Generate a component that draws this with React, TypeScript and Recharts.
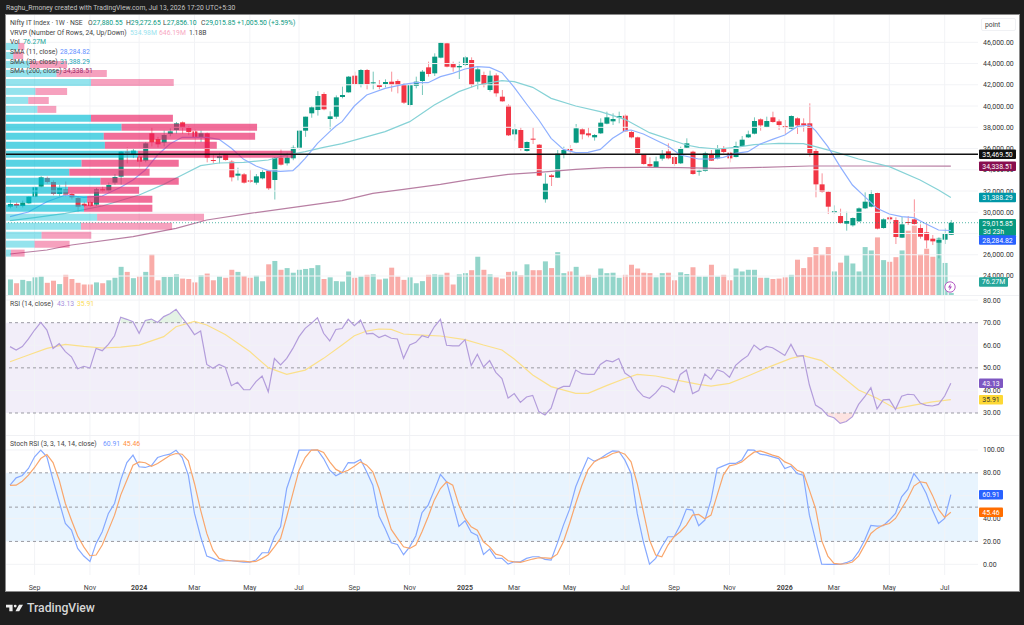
import React from 'react';
import { ComposedChart, BarChart, Bar, Line, Area, Cell, XAxis, YAxis, ReferenceLine, ReferenceArea } from 'recharts';

const FONT = 'Roboto, "Liberation Sans", sans-serif';
const FIRST_WEEK = Date.UTC(2023, 7, 7);
const opens = [
30526,30777,30590,30840,31468,32410,33225,32850,31720,32158,
31720,31342,30800,30965,30715,32158,32032,32786,33350,35700,
35400,35234,34857,37430,36896,36551,37367,37744,38466,37932,
37618,37022,37430,34920,35100,35390,34763,33445,33570,33005,
32786,33194,33915,33037,35139,34606,35077,36081,37681,39313,
39627,41133,38780,38999,40851,41290,42859,42043,43392,42168,
41980,42074,42294,42357,41980,40098,41886,42357,43643,43079,
44554,45903,43957,43643,43863,44334,42294,42922,41510,42890,
40882,40035,37336,37744,35767,36928,36363,31217,33476,33257,
35422,35987,36551,37807,37430,37054,37430,38340,38560,38905,
39093,37556,37054,35453,34543,34261,35045,35736,35202,34606,
36080,35704,33852,33883,35452,35076,36017,35609,35201,36237,
37053,37398,38747,38026,38936,38559,38120,37869,38842,38371,
38371,35766,32628,31938,29961,29647,28925,28769,29145,30369,
30526,31812,28517,29522,29271,27608,29082,29333,28517,28110,
27513,27137,27419,27880.55];
const closes = [
30777,30590,30903,31468,32347,33288,32850,31720,32283,31655,
31405,30526,30600,30590,32158,32032,32566,33319,35704,35600,
35800,34762,36489,36582,36394,37273,37618,38372,37964,37556,
36990,37430,35139,34825,35300,34920,33288,33633,32786,32880,
33382,33790,32252,35139,34480,35139,36081,37681,38999,39878,
40945,39690,39030,40819,41039,42765,42074,43392,42074,42231,
41792,42263,42012,41980,40317,41980,42294,43236,43016,44648,
45966,43706,43643,43769,44585,41980,43455,41980,42859,41196,
40443,37242,37807,36018,36614,36834,33445,32692,33319,35516,
35861,35798,37901,37336,37242,37273,38434,38936,38780,39062,
37618,37054,35547,34543,34324,34794,35391,35077,34543,36018,
36488,33601,33915,35547,34856,35923,35672,35076,36237,36833,
37335,38590,38183,38590,38497,38214,37963,39061,38183,38183,
35547,32628,31907,30526,30118,28988,29177,29459,30369,30996,
31718,28455,29333,29333,27670,28862,29020,28894,27702,27356,
27262,27388,28010,29015.85];
const highs = [
31154,30950,31100,31500,32400,33400,33350,33000,32600,32900,
31800,31500,31000,31100,32300,32400,32800,33600,35750,36100,
36000,35700,36600,38000,37100,37700,37900,38500,38550,38100,
37800,37700,37500,35500,35600,35500,34900,34200,33700,34000,
33600,34000,34000,35200,35900,35600,36300,37700,39000,40000,
41400,41300,39500,41000,41823,42828,43236,43487,43487,43236,
42451,42514,43236,42514,42137,42137,42765,43392,44177,44961,
46028,45966,44177,44177,44710,44585,43643,43236,43330,43079,
41510,40160,38309,37995,36677,37995,36426,33665,33602,35861,
36175,36332,38309,37901,37995,37367,38842,39470,39313,39470,
39219,37681,37116,35485,35171,35234,35861,36489,35296,36175,
36959,35798,34040,35704,35860,36331,36237,35704,36645,37178,
37680,38936,38842,38998,39469,38747,38685,39124,38936,38842,
40254,35955,33664,32001,30651,30338,30055,29522,30463,31875,
32095,31844,29427,29647,29522,29584,29647,31216,28862,28957,
27858,27639,28487,29272.65];
const lows = [
30370,30400,30450,30800,31400,32350,32700,31600,31500,31500,
31200,30000,30500,30500,30600,31900,31900,32600,32600,34600,
35100,34200,34700,36200,36100,36200,37150,37400,37400,37250,
36400,36600,34700,34600,34600,34850,32900,33000,32700,32750,
32600,33100,32100,31200,34400,34400,34900,35900,37100,38900,
39100,39600,37800,38800,40725,41260,41980,41760,41572,41572,
41572,41760,41353,41196,40192,39941,41666,41039,42765,42828,
44491,43643,43236,42545,43769,41760,41572,41760,41353,40882,
40411,37179,36740,35798,35704,36426,33414,30903,32472,33225,
35077,35485,36489,36865,37054,36740,37367,38277,38215,38372,
37556,36960,35485,34480,34230,34198,34857,34982,34355,34543,
36049,33538,33444,33821,34825,34982,35547,34699,35170,36174,
36990,37335,37680,37994,38434,37743,37367,37806,37367,37586,
35233,31404,31844,29835,29867,28925,28267,28643,29082,30306,
30463,28392,28455,28894,27011,27576,28800,28831,27513,26603,
26917,25662,27011,27856.1];
const volumes = [
37,28,36,33,42,44,29,34,26,48,
38,29,25,25,30,28,35,41,67,55,
40,44,55,97,35,43,43,49,39,38,
30,47,51,35,44,41,60,55,45,41,
46,33,73,81,60,64,53,60,62,64,
71,38,42,33,32,56,41,44,48,49,
37,39,65,44,36,42,28,33,48,49,
48,53,25,49,52,59,91,60,49,42,
39,55,56,47,73,59,59,80,64,102,
52,56,67,44,48,41,63,52,53,41,
48,72,63,53,52,42,52,53,35,54,
50,66,44,44,72,44,48,35,63,56,
60,60,41,41,38,39,42,48,84,64,
90,114,97,114,56,77,94,75,56,114,
106,137,83,79,90,106,153,165,97,110,
91,136,76.27,5];
const sma11Points = [[0,29585],[3,30025],[6,30997],[9,31625],[12,31405],[15,31530],[18,32347],[20,33037],[22,33979],[24,35390],[26,36426],[28,37054],[30,37054],[32,37054],[34,36865],[36,36018],[38,34982],[40,34355],[42,33915],[44,33853],[46,33915],[47,34449],[48,35076],[50,36489],[52,37587],[53,38120],[54,38528],[56,40003],[58,41039],[61,41666],[64,42043],[66,42200],[68,42200],[70,42765],[72,43079],[74,43487],[76,43706],[78,43643],[80,43141],[82,41761],[84,40192],[86,38685],[88,36959],[90,35924],[92,35610],[94,35641],[96,35924],[98,36959],[100,37681],[101,37744],[103,37367],[105,36802],[107,36238],[109,35390],[112,35013],[114,35013],[116,35170],[118,35547],[120,35704],[122,36426],[124,36865],[126,37272],[128,38057],[130,38214],[131,37680],[133,36174],[135,34291],[137,32566],[139,31467],[141,30369],[143,29835],[145,29584],[147,29490],[149,28894],[151,28329],[153,28284.82]];
const sma30Points = [[0,29208],[4,29491],[9,29899],[15,30589],[21,31627],[25,32629],[28,33507],[31,34386],[34,34637],[38,34700],[42,34920],[45,35390],[48,35704],[51,36112],[54,36457],[61,37587],[65,38528],[69,40097],[73,41353],[76,41980],[80,42388],[82,42294],[85,41760],[88,40725],[92,40003],[96,39470],[100,38748],[104,37493],[110,36331],[112,36112],[115,35955],[118,36112],[121,36362],[125,36488],[129,36457],[131,36174],[134,35704],[138,35013],[143,34291],[148,33036],[151,32095],[153,31388.29]];
const sma200Points = [[0,26070],[6,26447],[10,26918],[20,27702],[27,28487],[32,29271],[39,29899],[47,30526],[54,31091],[59,31782],[64,32158],[70,32629],[75,33100],[81,33571],[86,33759],[92,34041],[97,34198],[103,34230],[109,34198],[115,34134],[122,34229],[130,34354],[140,34354],[153,34338.51]];
const rsiValues = [
59.4,57.9,59.4,62.8,66.75,70.1,66.75,58.6,60.7,57.2,
54.9,49.6,50.7,49.9,58.6,57.6,60.4,64.2,72.4,71.5,
70.4,65.3,71,71.6,70.1,72.7,74,75.9,72.2,68.7,
64.7,66.3,51.5,49.8,51.5,50.3,42.1,43.6,40.3,40.3,
43.9,46.4,39.4,54.1,51.3,54.2,58.6,63.8,67.5,69.7,
72.2,65.3,61.9,67,67.4,71.5,68.7,71.2,65.1,65.3,
63.4,64.5,63.1,62.8,54.2,60.1,61.3,64.2,63.4,68.2,
71.5,60,59.7,59.7,62.5,51,56,50.4,53.2,48,
45.3,36.6,38.6,34.7,37.1,37.8,30.6,29.1,32.1,40.5,
41.8,41.8,49,47.4,47.1,47.1,51.5,53.3,52.7,54.1,
47.7,45.8,40.3,37.4,36.5,38.9,42.1,41.2,39.2,47.1,
49,38.6,39.9,47.3,44.9,49.2,48.2,45.8,51.1,53.5,
55.4,60.1,57.9,59.5,58.9,57.2,55.5,60.4,55.2,55.4,
42.4,33.5,31.8,28.8,27.9,25.4,26.2,28.4,33.8,37.2,
41.2,31.8,35.8,36,31.6,37.4,38.3,38.1,34.4,33.4,
33.1,33.8,37.5,43.13];
const rsiMaPoints = [[0,52.7],[3,55.7],[6,58.6],[9,60.4],[12,59.5],[15,58.8],[18,59.2],[21,60.1],[25,63.8],[27,68.2],[30,70.6],[32,69],[35,64.8],[39,57.2],[42,50.1],[45,47.1],[48,49],[51,54.2],[54,60.1],[56,64.2],[58,66.3],[60,67.2],[62,67],[64,65],[67,64.5],[70,64.1],[74,62.5],[77,60.1],[80,57.9],[82,53.9],[85,46.8],[88,41.7],[92,38.7],[94,38.7],[97,42.1],[100,45.3],[102,47.1],[105,46.4],[108,44.8],[112,42.7],[114,41.9],[117,43.1],[120,46.4],[124,51],[127,54.2],[129,55.4],[132,53.2],[135,46.8],[138,40.2],[141,36.5],[144,31.9],[147,33.5],[150,34.9],[153,35.91]];
const stochK = [
69.2,75.6,77.7,83.8,94,99.8,94,73.6,54.7,35.7,
29.9,13.9,7.2,2.5,18.3,28.5,44.5,53.2,73.6,89,
95.5,85.3,84.7,86.4,93.4,95.2,96.3,99.8,93.4,78,
44.5,24.1,7.2,5.2,2.8,3.1,3.1,2.5,1.9,1.9,
3.7,10.1,10.1,24.1,32.8,66.3,82.3,99.8,99.8,100,
100,92.5,82.3,77.4,80.3,89,88.8,91.7,80.9,69.2,
42.2,31.4,18.8,17.4,8.4,15.3,25,45.1,51.8,64.9,
78.6,72.2,53.2,33.1,38.1,27.9,25.3,8.7,13.3,5.4,
5.2,0.2,2.2,2.2,5.2,6.6,6.6,4.3,3.7,18.3,
34.3,48,67.8,80.9,93.4,90.2,92.5,96.3,99.2,98.9,
91.1,79.4,44.5,19.7,0.2,5.2,15.3,24.1,24.1,34.3,
48.3,47.4,33.7,38.7,56.1,83.8,86.1,88.2,88.2,91.1,
100,99.8,96.3,95.5,94,92.5,83.8,85.8,79.4,78,
43,21.2,0.2,0,0,0,1.4,3.7,11,21.2,
34,33.4,33.7,38.7,44.5,59,65.5,79.4,72.2,62,
47.4,35.7,40.1,60.91];
const stochD = [
69,69.2,72.7,78,84.7,92.5,96,89,73.6,53.2,
38.6,24.7,15.3,7.5,8.1,16.8,29.9,43,60.5,73.6,
86.7,89.6,88.8,85.8,88.2,91.7,95.2,96.9,96.3,90.5,
70.7,47.4,27,12.4,5.2,3.7,3.1,2.8,2.8,2.2,
2.5,5.2,8.4,15.3,22.6,41.6,62,82.3,93.4,99.8,
100,97.8,89.6,83,80.3,82.3,85.8,89.6,86.7,80.9,
66.3,47.4,30.5,22.6,15.3,13.9,16.8,28.5,41.6,56.1,
66.3,72.2,69.2,51.8,40.1,32.8,29.9,19.7,15.3,8.9,
7.5,3.1,2.2,1.7,3.1,4.6,5.7,5.7,5.2,8.9,
19.7,35.7,53.2,69.2,82.9,89.6,92.5,94,96.9,98.4,
96.3,89.6,70.7,46,21.2,8.1,6.6,16.8,24.1,28.5,
34.3,43,43.6,39.8,43,60.5,78,86.1,87.3,89.6,
94,98.1,99.2,97.5,95.5,94,89.6,87.3,82.3,80.3,
64.9,48.8,20.7,7.2,0.8,0.2,0.5,2,7.2,16.8,
27,31.4,34.3,35.7,40.1,48.8,57.6,68.4,72.2,71.3,
60.5,48,41,45.46];

// Visible Range Volume Profile, top row first (millions)
const vrvpUp = [4.4,2.6,8.6,18.2,30.6,10.6,8,11.3,30.6,41.6,35.2,35.6,47.5,27.2,22.8,34,22.3,29.2,28.1,32.8,27,12.8,10.3,1.8];
const vrvpDown = [2.2,3.6,13.4,18.1,29.8,11.4,7.4,6.8,29.5,48.8,54.5,40.3,55.8,35,28.9,28.2,25.6,23.5,24.6,38.5,32.8,17.9,12.6,4.9];
const vrvpValueArea = [0,0,0,0,0,0,0,0,1,1,1,1,1,1,1,1,1,1,1,0,0,0,0,0];

const tickIndexes = [4,13,21,30,39,47,56,65,74,82,91,100,108,117,126,134,143,152];
const tickLabels = ['Sep','Nov','2024','Mar','May','Jul','Sep','Nov','2025','Mar','May','Jul','Sep','Nov','2026','Mar','May','Jul'];
const priceTicks = [24000,26000,28000,30000,32000,34000,36000,38000,40000,42000,44000,46000];
const rsiTicks = [30,40,50,60,70,80];
const stochTicks = [0,20,40,60,80,100];

const weeks = opens.map((_, i) => new Date(FIRST_WEEK + i * 7 * 864e5).toISOString().slice(0, 10));
const tickWeeks = tickIndexes.map((i) => weeks[i]);
const tickLabelOf = Object.fromEntries(tickWeeks.map((w, i) => [w, tickLabels[i]]));
const pick = (pts: number[][]) => new Map(pts.map(([i, v]) => [i, v]));
const m11 = pick(sma11Points), m30 = pick(sma30Points), m200 = pick(sma200Points), mRsi = pick(rsiMaPoints);

const rows = weeks.map((week, i) => ({
  week,
  range: [lows[i], highs[i]],
  o: opens[i],
  c: closes[i],
  vol: volumes[i],
  sma11: m11.get(i) ?? null,
  sma30: m30.get(i) ?? null,
  sma200: m200.get(i) ?? null,
  rsi: rsiValues[i],
  rsiMa: mRsi.get(i) ?? null,
  rsiHi: rsiValues[i] > 70 ? [70, rsiValues[i]] : null,
  rsiLo: rsiValues[i] < 30 ? [rsiValues[i], 30] : null,
  k: stochK[i],
  d: stochD[i],
}));
const vrvpRows = vrvpUp.map((up, i) => ({ row: `r${i}`, up, down: vrvpDown[i], va: vrvpValueArea[i] }));

const UP = '#089981', DOWN = '#f23645';
const CHART_W = 1013;
const PLOT_W = 972;
const RSI_DOMAIN = [20.25, 82.27];
const STOCH_DOMAIN = [-9.36, 113.1];
const xProps: any = { dataKey: 'week', type: 'category', scale: 'band', padding: { left: 0.93, right: 24.1 } };

const Candle = (p: any) => {
  const { x, y, width, height, payload } = p;
  const [lo, hi] = payload.range;
  const k = height / (hi - lo);
  const top = y + (hi - Math.max(payload.o, payload.c)) * k;
  const bot = y + (hi - Math.min(payload.o, payload.c)) * k;
  const col = payload.c >= payload.o ? UP : DOWN;
  const cx = x + width / 2;
  return (
    <g>
      <line x1={cx} x2={cx} y1={y} y2={y + height} stroke={col} strokeOpacity={0.55} strokeWidth={1} />
      <rect x={x} y={top} width={width} height={Math.max(bot - top, 1)} fill={col} />
    </g>
  );
};

const Badge = ({ viewBox, text, sub, bg, fg = '#fff', w = 37, dy = 0 }: any) => {
  const x = viewBox.x + viewBox.width + 1;
  const h = sub ? 17 : 9.5;
  const y = viewBox.y + dy;
  return (
    <g style={{ fontFamily: FONT, fontSize: 6.9 }}>
      <rect x={x} y={y - 4.75} width={w} height={h} rx={1} fill={bg} />
      <text x={x + w / 2} y={y + 2.5} textAnchor="middle" fill={fg}>{text}</text>
      {sub ? <text x={x + 4} y={y + 10.4} fill={fg}>{sub}</text> : null}
    </g>
  );
};
const badgeLine = (axis: string, xA: string | undefined, v: number, cfg: any) => (
  <ReferenceLine key={cfg.text} yAxisId={axis} xAxisId={xA} y={v} stroke="none" label={(p: any) => <Badge viewBox={p.viewBox} {...cfg} />} />
);

const XTick = ({ x, y, payload }: any) => {
  const lab = tickLabelOf[payload.value];
  return (
    <text x={x} y={y + 7} textAnchor="middle" fontFamily={FONT} fontSize={7} fontWeight={/^\d/.test(lab) ? 700 : 400} fill="#444">{lab}</text>
  );
};
const numFmt = (v: number) => v.toLocaleString('en-US', { minimumFractionDigits: 2, maximumFractionDigits: 2 });
const axisTick = { fontSize: 7, fill: '#333', fontFamily: FONT };
const GRID = '#f2f3f6';

const gridX = (xA: string, yA: string) => tickWeeks.map((w) => <ReferenceLine key={'v' + w} x={w} xAxisId={xA} yAxisId={yA} stroke={GRID} />);
const gridY = (vals: number[], xA: string, yA: string) => vals.map((v) => <ReferenceLine key={'h' + v} y={v} xAxisId={xA} yAxisId={yA} stroke={GRID} />);

const Txt = ({ x, y, c = '#444', children, s = 6.8, b = 400 }: any) => (
  <div style={{ position: 'absolute', left: x, top: y - 5, height: 10, lineHeight: '10px', fontFamily: FONT, fontSize: s, fontWeight: b, color: c, whiteSpace: 'nowrap' }}>{children}</div>
);
const abs = (left: number, top: number): React.CSSProperties => ({ position: 'absolute', left, top });

// a transparent chart on top of a pane, so the price tags cover that pane's axis labels
const TagLayer = ({ top, height, domain, tags }: any) => (
  <div style={abs(6, top)}>
    <ComposedChart width={CHART_W} height={height} data={rows} margin={{ top: 0, right: 41, bottom: 0, left: 0 }}>
      <XAxis xAxisId="p" hide {...xProps} />
      <YAxis yAxisId="t" hide domain={domain} allowDataOverflow />
      {tags.map((t: any) => badgeLine('t', 'p', t.value, t))}
    </ComposedChart>
  </div>
);

export default function App() {
  return (
    <div style={{ position: 'absolute', left: 0, top: 0, width: 1024, height: 625, background: '#1e1e1e', overflow: 'hidden' }}>
      <Txt x={6} y={8} c="#c4c4c4">Raghu_Rmoney created with TradingView.com, Jul 13, 2026 17:20 UTC+5:30</Txt>
      <div style={{ position: 'absolute', left: 6, top: 15, width: 1013, height: 576, background: '#fff', boxShadow: '0 0 0 1px #8a8a8a' }} />

      {/* price + volume pane */}
      <div style={abs(6, 15)}>
        <ComposedChart width={CHART_W} height={280} data={rows} margin={{ top: 0, right: 0, bottom: 0, left: 0 }}>
          <XAxis xAxisId="p" hide {...xProps} />
          <XAxis xAxisId="v" hide {...xProps} />
          <YAxis yAxisId="price" orientation="right" width={41} domain={[22212, 48570]} allowDataOverflow ticks={priceTicks} interval={0} tickFormatter={numFmt} tick={axisTick} axisLine={false} tickLine={false} tickSize={0} tickMargin={5} />
          <YAxis yAxisId="vol" hide domain={[0, 666]} allowDataOverflow />
          {gridX('p', 'price')}
          {gridY(priceTicks, 'p', 'price')}
          <Bar xAxisId="v" yAxisId="vol" dataKey="vol" barSize={5} isAnimationActive={false}>
            {rows.map((r) => <Cell key={r.week} fill={r.c >= r.o ? '#93d5ca' : '#f9aca8'} />)}
          </Bar>
          <Line xAxisId="p" yAxisId="price" dataKey="sma200" connectNulls dot={false} stroke="#b87fa3" strokeWidth={1.2} isAnimationActive={false} />
          <Line xAxisId="p" yAxisId="price" dataKey="sma30" connectNulls dot={false} stroke="#86d2d6" strokeWidth={1.2} isAnimationActive={false} />
          <Line xAxisId="p" yAxisId="price" dataKey="sma11" connectNulls dot={false} stroke="#8fb0ff" strokeWidth={1.2} isAnimationActive={false} />
          <Bar xAxisId="p" yAxisId="price" dataKey="range" barSize={5} shape={Candle} isAnimationActive={false} />
          <ReferenceLine xAxisId="p" yAxisId="price" y={29015.85} stroke={UP} strokeOpacity={0.7} strokeDasharray="1 2" />
        </ComposedChart>
      </div>

      {/* volume profile */}
      <div style={abs(6, 41.7)}>
        <BarChart width={PLOT_W} height={215.6} layout="vertical" data={vrvpRows} margin={{ top: 0, right: 0, bottom: 0, left: 0 }} barCategoryGap={1}>
          <XAxis type="number" hide domain={[0, 350]} />
          <YAxis type="category" dataKey="row" hide />
          <Bar dataKey="up" stackId="p" isAnimationActive={false}>
            {vrvpRows.map((r) => <Cell key={r.row} fill={r.va ? 'rgba(0,188,212,0.65)' : 'rgba(0,188,212,0.42)'} />)}
          </Bar>
          <Bar dataKey="down" stackId="p" isAnimationActive={false}>
            {vrvpRows.map((r) => <Cell key={r.row} fill={r.va ? 'rgba(233,30,99,0.65)' : 'rgba(233,30,99,0.42)'} />)}
          </Bar>
        </BarChart>
      </div>

      {/* top price line and badges */}
      <div style={abs(6, 15)}>
        <ComposedChart width={CHART_W} height={280} data={rows} margin={{ top: 0, right: 41, bottom: 0, left: 0 }}>
          <XAxis xAxisId="p" hide {...xProps} />
          <YAxis yAxisId="price" hide domain={[22212, 48570]} allowDataOverflow />
          <YAxis yAxisId="vol" hide domain={[0, 666]} allowDataOverflow />
          <ReferenceLine xAxisId="p" yAxisId="price" y={35469.5} stroke="#111" strokeWidth={1.5} />
          {badgeLine('price', 'p', 35469.5, { text: '35,469.50', bg: '#111' })}
          {badgeLine('price', 'p', 34338.51, { text: '34,338.51', bg: '#880e4f' })}
          {badgeLine('price', 'p', 31388.29, { text: '31,388.29', bg: '#0097a7' })}
          {badgeLine('price', 'p', 29015.85, { text: '29,015.85', sub: '3d 23h', bg: UP, dy: 1 })}
          {badgeLine('price', 'p', 28284.82, { text: '28,284.82', bg: '#2962ff', dy: 9.6 })}
          {badgeLine('vol', 'p', 76.27, { text: '76.27M', bg: '#26a69a', w: 29, dy: 19 })}
        </ComposedChart>
      </div>

      {/* RSI pane */}
      <div style={abs(6, 295)}>
        <ComposedChart width={CHART_W} height={140} data={rows} margin={{ top: 0, right: 0, bottom: 0, left: 0 }}>
          <XAxis xAxisId="p" hide {...xProps} />
          <YAxis yAxisId="r" orientation="right" width={41} domain={RSI_DOMAIN} allowDataOverflow ticks={rsiTicks} interval={0} tickFormatter={numFmt} tick={axisTick} axisLine={false} tickLine={false} tickSize={0} tickMargin={5} />
          {gridX('p', 'r')}
          <ReferenceArea xAxisId="p" yAxisId="r" y1={30} y2={70} fill="#7e57c2" stroke="none" shape={(p: any) => <rect x={0} y={p.y} width={PLOT_W} height={p.height} fill="#7e57c2" fillOpacity={0.1} />} />
          {gridY([40, 60, 80], 'p', 'r')}
          {[70, 50, 30].map((v) => <ReferenceLine key={v} xAxisId="p" yAxisId="r" y={v} stroke="#9a9ba3" strokeDasharray="3 3" />)}
          <Area xAxisId="p" yAxisId="r" dataKey="rsiHi" stroke="none" fill="#4caf50" fillOpacity={0.15} isAnimationActive={false} />
          <Area xAxisId="p" yAxisId="r" dataKey="rsiLo" stroke="none" fill="#f44336" fillOpacity={0.15} isAnimationActive={false} />
          <Line xAxisId="p" yAxisId="r" dataKey="rsiMa" connectNulls dot={false} stroke="#fbe08a" strokeWidth={1.2} isAnimationActive={false} />
          <Line xAxisId="p" yAxisId="r" dataKey="rsi" dot={false} stroke="#b39ddb" strokeWidth={1.2} isAnimationActive={false} />
        </ComposedChart>
      </div>
      <TagLayer top={295} height={140} domain={RSI_DOMAIN} tags={[
        { value: 43.13, text: '43.13', bg: '#7e57c2', w: 24 },
        { value: 35.91, text: '35.91', bg: '#fdd835', fg: '#333', w: 24 },
      ]} />

      {/* Stoch RSI pane */}
      <div style={abs(6, 435)}>
        <ComposedChart width={CHART_W} height={156} data={rows} margin={{ top: 0, right: 0, bottom: 0, left: 0 }}>
          <XAxis xAxisId="p" {...xProps} height={16} ticks={tickWeeks} interval={0} tick={<XTick />} axisLine={false} tickLine={false} />
          <YAxis yAxisId="s" orientation="right" width={41} domain={STOCH_DOMAIN} allowDataOverflow ticks={stochTicks} interval={0} tickFormatter={numFmt} tick={axisTick} axisLine={false} tickLine={false} tickSize={0} tickMargin={5} />
          {gridX('p', 's')}
          <ReferenceArea xAxisId="p" yAxisId="s" y1={20} y2={80} fill="#2196f3" stroke="none" shape={(p: any) => <rect x={0} y={p.y} width={PLOT_W} height={p.height} fill="#2196f3" fillOpacity={0.1} />} />
          {gridY([0, 40, 60, 100], 'p', 's')}
          {[80, 50, 20].map((v) => <ReferenceLine key={v} xAxisId="p" yAxisId="s" y={v} stroke="#9a9ba3" strokeDasharray="3 3" />)}
          <Line xAxisId="p" yAxisId="s" dataKey="k" dot={false} stroke="#86a9ff" strokeWidth={1.2} isAnimationActive={false} />
          <Line xAxisId="p" yAxisId="s" dataKey="d" dot={false} stroke="#f9a66c" strokeWidth={1.2} isAnimationActive={false} />
        </ComposedChart>
      </div>
      <TagLayer top={435} height={140} domain={STOCH_DOMAIN} tags={[
        { value: 60.91, text: '60.91', bg: '#2962ff', w: 24 },
        { value: 45.46, text: '45.46', bg: '#ff6d00', w: 24 },
      ]} />

      {/* pane separators */}
      <div style={{ position: 'absolute', left: 6, top: 295, width: 1013, height: 1, background: '#f0f1f4' }} />
      <div style={{ position: 'absolute', left: 6, top: 435, width: 1013, height: 1, background: '#f0f1f4' }} />

      {/* legends */}
      <Txt x={10} y={23}>Nifty IT Index · 1W · NSE</Txt>
      {[['O', '27,880.55', 88], ['H', '29,272.65', 126], ['L', '27,856.10', 163], ['C', '29,015.85', 201]].map(([a, b, x]: any) => (
        <Txt key={a} x={x} y={23}>{a}<span style={{ color: UP }}>{b}</span></Txt>
      ))}
      <Txt x={237} y={23} c={UP}>+1,005.50 (+3.59%)</Txt>
      <Txt x={10} y={33}>VRVP (Number Of Rows, 24, Up/Down)</Txt>
      <Txt x={130} y={33} c="#9ae3ee">534.98M</Txt>
      <Txt x={159} y={33} c="#f7a8c2">646.19M</Txt>
      <Txt x={189} y={33}>1.18B</Txt>
      <Txt x={10} y={42.3}>Vol</Txt>
      <Txt x={23} y={42.3} c="#26a69a">76.27M</Txt>
      <Txt x={10} y={52}>SMA (11, close)</Txt>
      <Txt x={60} y={52} c="#5f8fff">28,284.82</Txt>
      <Txt x={10} y={61.5}>SMA (30, close)</Txt>
      <Txt x={60} y={61.5} c="#26a5b5">31,388.29</Txt>
      <Txt x={10} y={71}>SMA (200, close)</Txt>
      <Txt x={63} y={71} c="#9c2a68">34,338.51</Txt>
      <Txt x={10} y={303.7}>RSI (14, close)</Txt>
      <Txt x={57} y={303.7} c="#a68fdc">43.13</Txt>
      <Txt x={77} y={303.7} c="#fbdc55">35.91</Txt>
      <Txt x={10} y={444}>Stoch RSI (3, 3, 14, 14, close)</Txt>
      <Txt x={103} y={444} c="#6f97ff">60.91</Txt>
      <Txt x={123} y={444} c="#ff8f3f">45.46</Txt>

      {/* scale mode box */}
      <div style={{ position: 'absolute', left: 981, top: 18, width: 35, height: 13, border: '1px solid #f0f1f4', borderRadius: 2, boxSizing: 'border-box' }} />
      <Txt x={985} y={24.5}>point</Txt>

      {/* lightning icon */}
      <svg style={abs(944, 281)} width={12} height={12} viewBox="0 0 12 12">
        <circle cx={6} cy={6} r={5.2} fill="#fff" stroke="#ab47bc" strokeWidth={0.9} />
        <path d="M6.8 2.6 4 6.5h1.8L5.2 9.4 8 5.5H6.2z" fill="#ab47bc" />
      </svg>

      {/* TradingView wordmark */}
      <svg style={abs(6, 603)} width={17} height={10} viewBox="0 5 36 16">
        <path d="M14 20H7v-8H0V6h14v14zM28 20h-8l7.5-14H36l-8 14z" fill="#eee" />
        <circle cx={19.5} cy={9} r={3} fill="#eee" />
      </svg>
      <Txt x={27} y={608} c="#d6d6d6" s={12.2} b={500}>TradingView</Txt>
    </div>
  );
}
